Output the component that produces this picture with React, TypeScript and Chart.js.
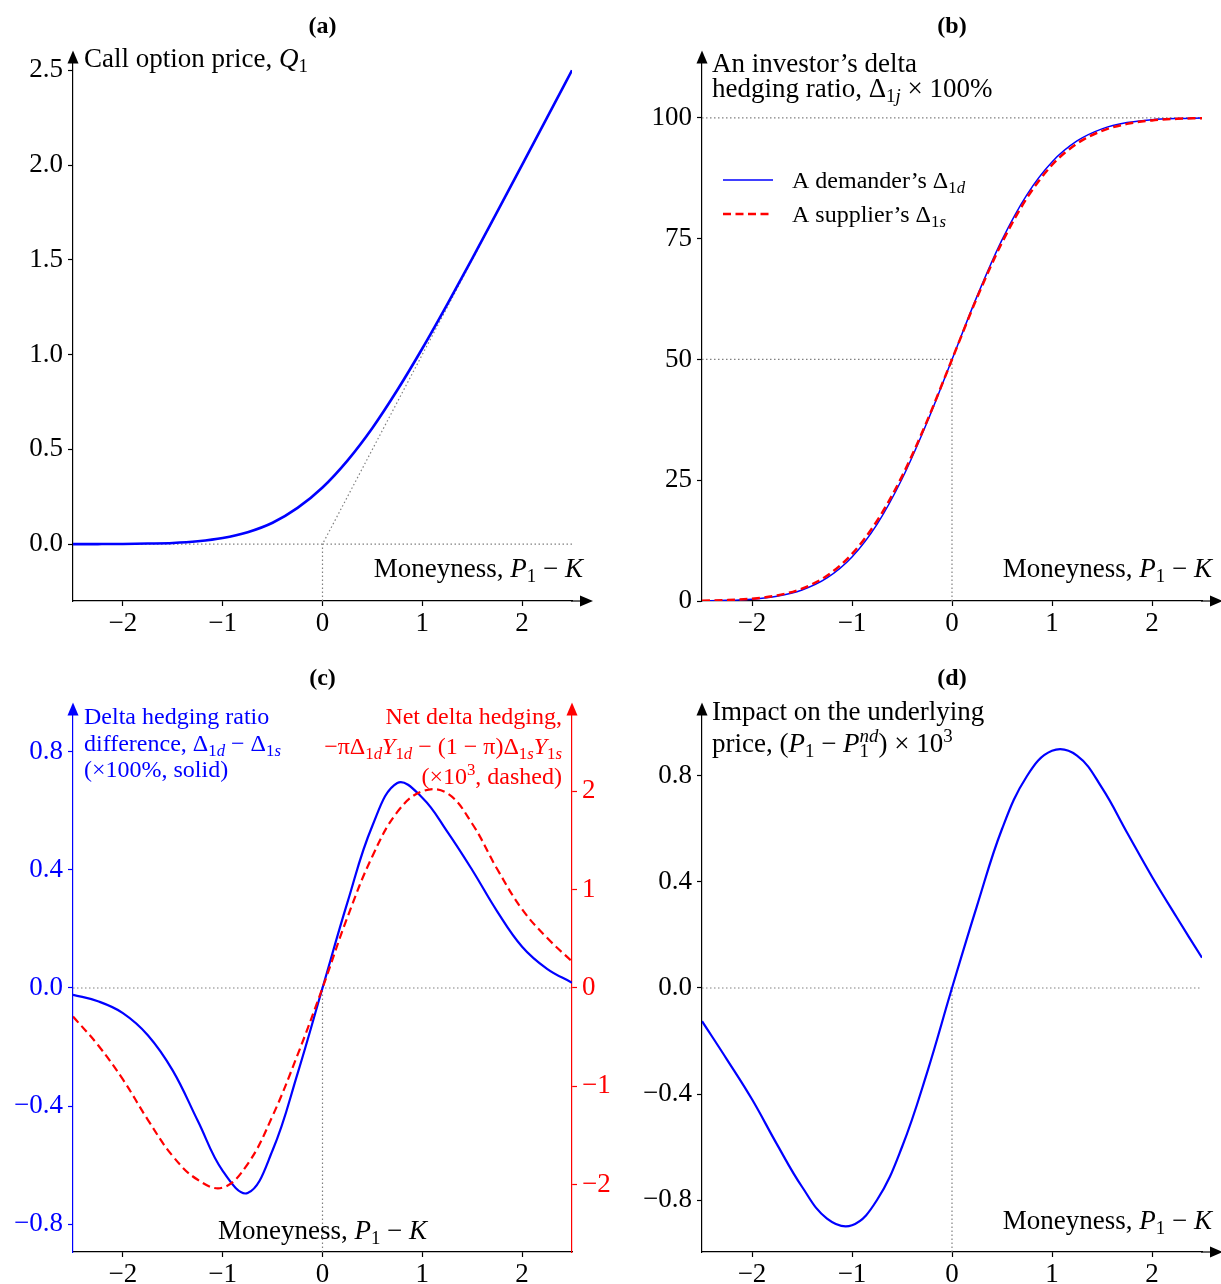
import React, { useEffect, useRef } from 'react';
import { Chart, registerables } from 'chart.js';

Chart.register(...registerables);

const W = 1221;
const H = 1284;
const FONT = "'Liberation Serif', 'Times New Roman', serif";
const BLUE = '#0000ff';
const RED = '#ff0000';
const GREY = '#808080';

// ---------- data ----------
const moneyness = [-2.5, -2.25, -2, -1.75, -1.5, -1.25, -1, -0.75, -0.5, -0.25, 0, 0.25, 0.5, 0.75, 1, 1.25, 1.5, 1.75, 2, 2.25, 2.5];

// (a) call option price Q1
const callPrice = [0.0001, 0.0003, 0.001, 0.003, 0.006, 0.015, 0.032, 0.063, 0.113, 0.191, 0.299, 0.441, 0.613, 0.813, 1.032, 1.265, 1.506, 1.753, 2.001, 2.250, 2.500];
// payoff max(P1-K, 0)
const payoffX = [-2.5, 0, 2.5];
const payoffY = [0, 0, 2.5];

// (b) delta hedging ratios x 100%
const deltaDemander = [0.04, 0.13, 0.38, 0.98, 2.28, 4.78, 9.12, 15.87, 25.25, 36.94, 50.0, 63.06, 74.75, 84.13, 90.88, 95.22, 97.72, 99.02, 99.62, 99.87, 99.96];
const deltaSupplier = [0.06, 0.18, 0.47, 1.14, 2.56, 5.23, 9.74, 16.57, 25.8, 37.23, 50.0, 62.77, 74.2, 83.44, 90.24, 94.69, 97.32, 98.76, 99.48, 99.81, 99.94];

// (c) difference (x100%) and net delta hedging (x10^3)
const deltaDiff = [-0.023, -0.045, -0.085, -0.16, -0.28, -0.45, -0.62, -0.695, -0.55, -0.29, 0, 0.29, 0.55, 0.695, 0.645, 0.53, 0.40, 0.26, 0.14, 0.065, 0.018];
const netDelta = [-0.29, -0.58, -0.93, -1.34, -1.71, -1.95, -2.03, -1.79, -1.30, -0.68, 0, 0.72, 1.34, 1.79, 2.0, 1.98, 1.67, 1.21, 0.80, 0.51, 0.27];

// (d) impact on the underlying price (x10^3)
const priceImpact = [-0.125, -0.27, -0.42, -0.59, -0.75, -0.87, -0.895, -0.80, -0.60, -0.32, 0, 0.31, 0.60, 0.80, 0.895, 0.877, 0.755, 0.587, 0.42, 0.265, 0.114];

// reference lines
const spanX = [-2.5, 2.5];
const halfLeftX = [-2.5, 0];
const halfRightX = [0, 2.5];
const zeroPair = [0, 0];

// ticks
const xTicks = [-2, -1, 0, 1, 2];
const yTicksA = [0, 0.5, 1, 1.5, 2, 2.5];
const yTicksB = [0, 25, 50, 75, 100];
const yTicksC = [-0.8, -0.4, 0, 0.4, 0.8];
const y1TicksC = [-2, -1, 0, 1, 2];
const yTicksD = [-0.8, -0.4, 0, 0.4, 0.8];

// ---------- helpers ----------
const pts = (xs: number[], ys: number[]) => xs.map((x, i) => ({ x, y: ys[i] }));
const minus = (s: string) => s.replace('-', '\u2212');
const fmt1 = (v: number) => minus(Number(v).toFixed(1));
const fmt0 = (v: number) => minus(String(Math.round(Number(v))));

type Seg = { t: string; it?: boolean; b?: boolean; sub?: boolean; sup?: boolean; over?: boolean };

function segFont(s: Seg, size: number) {
  const sz = s.sub || s.sup ? size * 0.7 : size;
  return `${s.it ? 'italic ' : ''}${s.b ? 'bold ' : ''}${sz}px ${FONT}`;
}

function drawRich(ctx: CanvasRenderingContext2D, segs: Seg[], x: number, y: number, size: number, align: 'left' | 'right' | 'center', color: string, sx = 1) {
  let cur = 0;
  let prevStart = 0;
  let prevEnd = 0;
  const items: { s: Seg; x: number }[] = [];
  for (const s of segs) {
    ctx.font = segFont(s, size);
    const w = ctx.measureText(s.t).width;
    const start = s.over ? prevStart : cur;
    items.push({ s, x: start });
    const end = start + w;
    cur = s.over ? Math.max(prevEnd, end) : end;
    prevStart = start;
    prevEnd = end;
  }
  const width = cur * sx;
  const x0 = align === 'right' ? x - width : align === 'center' ? x - width / 2 : x;
  ctx.save();
  ctx.translate(x0, y);
  ctx.scale(sx, 1);
  ctx.fillStyle = color;
  ctx.textAlign = 'left';
  ctx.textBaseline = 'alphabetic';
  for (const it of items) {
    ctx.font = segFont(it.s, size);
    const dy = it.s.sub ? size * 0.2 : it.s.sup ? -size * 0.38 : 0;
    ctx.fillText(it.s.t, it.x, dy);
  }
  ctx.restore();
}

function upArrow(ctx: CanvasRenderingContext2D, x: number, top: number, color: string) {
  ctx.save();
  ctx.fillStyle = color;
  ctx.beginPath();
  ctx.moveTo(x, top - 6.5);
  ctx.lineTo(x - 5.5, top + 6.5);
  ctx.lineTo(x + 5.5, top + 6.5);
  ctx.closePath();
  ctx.fill();
  ctx.restore();
}

function rightArrow(ctx: CanvasRenderingContext2D, a: any) {
  ctx.save();
  ctx.strokeStyle = '#000';
  ctx.lineWidth = 1.2;
  ctx.beginPath();
  ctx.moveTo(a.right - 1, a.bottom);
  ctx.lineTo(a.right + 10, a.bottom);
  ctx.stroke();
  ctx.fillStyle = '#000';
  ctx.beginPath();
  ctx.moveTo(a.right + 21, a.bottom);
  ctx.lineTo(a.right + 8, a.bottom - 5.5);
  ctx.lineTo(a.right + 8, a.bottom + 5.5);
  ctx.closePath();
  ctx.fill();
  ctx.restore();
}

const moneynessLabel: Seg[] = [{ t: 'Moneyness, ' }, { t: 'P', it: true }, { t: '1', sub: true }, { t: ' \u2212 ' }, { t: 'K', it: true }];

const XH = 30;
const YW = 70;
const Y1W = 60;
const TICK_SIZE = 27;

type AxisSpec = { min: number; max: number; ticks: number[]; fmt: (v: number) => string; color: string };
type PanelSpec = {
  area: { l: number; r: number; t: number; b: number };
  x: [number, number];
  y: AxisSpec;
  y1?: AxisSpec;
  datasets: any[];
  draw: (ctx: CanvasRenderingContext2D, a: any) => void;
};

function scaleOpts(spec: AxisSpec, position: string, isX: boolean, width: number) {
  return {
    type: 'linear',
    position,
    min: spec.min,
    max: spec.max,
    afterBuildTicks: (s: any) => {
      s.ticks = spec.ticks.map((v) => ({ value: v }));
    },
    afterFit: (s: any) => {
      if (isX) s.height = width;
      else s.width = width;
    },
    grid: { display: true, drawOnChartArea: false, drawTicks: true, tickLength: 5, tickColor: spec.color, tickWidth: 1.2 },
    border: { display: true, color: spec.color, width: 1.2 },
    ticks: {
      color: spec.color,
      font: { family: FONT, size: TICK_SIZE },
      padding: isX ? 2 : 5,
      autoSkip: false,
      maxRotation: 0,
      callback: (v: any) => spec.fmt(Number(v)),
    },
  };
}

function buildConfig(p: PanelSpec): any {
  const scales: any = {
    x: scaleOpts({ min: p.x[0], max: p.x[1], ticks: xTicks, fmt: fmt0, color: '#000' }, 'bottom', true, XH),
    y: scaleOpts(p.y, 'left', false, YW),
  };
  if (p.y1) scales.y1 = scaleOpts(p.y1, 'right', false, Y1W);
  return {
    type: 'line',
    data: { datasets: p.datasets },
    options: {
      responsive: false,
      animation: false,
      events: [],
      devicePixelRatio: 1,
      layout: {
        padding: {
          left: p.area.l - YW,
          right: W - p.area.r - (p.y1 ? Y1W : 0),
          top: p.area.t,
          bottom: H - p.area.b - XH,
        },
      },
      plugins: { legend: { display: false }, tooltip: { enabled: false }, title: { display: false } },
      scales,
      elements: { point: { radius: 0 } },
    },
    plugins: [
      {
        id: 'overlay',
        afterDraw(chart: any) {
          p.draw(chart.ctx, chart.chartArea);
        },
      },
    ],
  };
}

const dotted = (data: any[], yAxisID = 'y') => ({
  data,
  yAxisID,
  borderColor: GREY,
  borderWidth: 1.2,
  borderDash: [1.5, 2.5],
  borderCapStyle: 'butt',
  pointRadius: 0,
  fill: false,
  tension: 0,
  order: 5,
});

const curve = (data: any[], color: string, width: number, extra: any = {}) => ({
  data,
  borderColor: color,
  borderWidth: width,
  pointRadius: 0,
  fill: false,
  borderJoinStyle: 'round',
  ...extra,
});

// ---------- panels ----------
const yMinA = -0.3;
const yMinC = -0.8948;
const yMinD = -0.9962;

const panelA: PanelSpec = {
  area: { l: 73, r: 572, t: 57, b: 601 },
  x: [-2.5, 2.5],
  y: { min: yMinA, max: 2.57, ticks: yTicksA, fmt: fmt1, color: '#000' },
  datasets: [
    curve(pts(moneyness, callPrice), BLUE, 2.6, { cubicInterpolationMode: 'monotone', order: 0 }),
    dotted(pts(payoffX, payoffY)),
    dotted(pts(halfRightX, zeroPair)),
    dotted(pts(zeroPair, [yMinA, 0])),
  ],
  draw: (ctx, a) => {
    drawRich(ctx, [{ t: '(a)', b: true }], (a.left + a.right) / 2, 33, 24, 'center', '#000');
    upArrow(ctx, a.left, a.top, '#000');
    rightArrow(ctx, a);
    drawRich(ctx, [{ t: 'Call option price, ' }, { t: 'Q', it: true }, { t: '1', sub: true }], 84, 67, 27, 'left', '#000');
    drawRich(ctx, moneynessLabel, 583, 577, 27, 'right', '#000');
  },
};

const panelB: PanelSpec = {
  area: { l: 702, r: 1202, t: 57, b: 601 },
  x: [-2.5, 2.5],
  y: { min: 0, max: 112.6, ticks: yTicksB, fmt: fmt0, color: '#000' },
  datasets: [
    curve(pts(moneyness, deltaSupplier), RED, 2.5, { cubicInterpolationMode: 'monotone', borderDash: [8, 4.5], order: 0 }),
    curve(pts(moneyness, deltaDemander), BLUE, 1.5, { cubicInterpolationMode: 'monotone', order: 1 }),
    dotted(pts(spanX, [100, 100])),
    dotted(pts(halfLeftX, [50, 50])),
    dotted(pts(zeroPair, [0, 50])),
  ],
  draw: (ctx, a) => {
    drawRich(ctx, [{ t: '(b)', b: true }], (a.left + a.right) / 2, 33, 24, 'center', '#000');
    upArrow(ctx, a.left, a.top, '#000');
    rightArrow(ctx, a);
    drawRich(ctx, [{ t: 'An investor\u2019s delta' }], 712, 72, 27, 'left', '#000');
    drawRich(
      ctx,
      [{ t: 'hedging ratio, \u0394' }, { t: '1', sub: true }, { t: 'j', sub: true, it: true }, { t: ' \u00d7 100%' }],
      712,
      97,
      27,
      'left',
      '#000'
    );
    // legend
    const lx = a.left + 21;
    ctx.save();
    ctx.strokeStyle = BLUE;
    ctx.lineWidth = 1.5;
    ctx.beginPath();
    ctx.moveTo(lx, 180);
    ctx.lineTo(lx + 50, 180);
    ctx.stroke();
    ctx.strokeStyle = RED;
    ctx.lineWidth = 2.5;
    ctx.setLineDash([8, 4.5]);
    ctx.beginPath();
    ctx.moveTo(lx, 214);
    ctx.lineTo(lx + 50, 214);
    ctx.stroke();
    ctx.restore();
    drawRich(ctx, [{ t: 'A demander\u2019s \u0394' }, { t: '1', sub: true }, { t: 'd', sub: true, it: true }], lx + 69, 188, 24, 'left', '#000');
    drawRich(ctx, [{ t: 'A supplier\u2019s \u0394' }, { t: '1', sub: true }, { t: 's', sub: true, it: true }], lx + 69, 222, 24, 'left', '#000');
    drawRich(ctx, moneynessLabel, 1212, 577, 27, 'right', '#000');
  },
};

const panelC: PanelSpec = {
  area: { l: 73, r: 572, t: 709, b: 1252 },
  x: [-2.5, 2.5],
  y: { min: yMinC, max: 0.9456, ticks: yTicksC, fmt: fmt1, color: BLUE },
  y1: { min: yMinC * 3, max: 0.9456 * 3, ticks: y1TicksC, fmt: fmt0, color: RED },
  datasets: [
    curve(pts(moneyness, netDelta), RED, 2.2, { tension: 0.4, borderDash: [8, 4.5], yAxisID: 'y1', order: 0 }),
    curve(pts(moneyness, deltaDiff), BLUE, 2.2, { tension: 0.4, order: 1 }),
    dotted(pts(spanX, zeroPair)),
    dotted(pts(zeroPair, [yMinC, 0])),
  ],
  draw: (ctx, a) => {
    drawRich(ctx, [{ t: '(c)', b: true }], (a.left + a.right) / 2, 685, 24, 'center', '#000');
    upArrow(ctx, a.left, a.top, BLUE);
    upArrow(ctx, a.right, a.top, RED);
    drawRich(ctx, [{ t: 'Delta hedging ratio' }], 84, 724, 24, 'left', BLUE);
    drawRich(
      ctx,
      [{ t: 'difference, \u0394' }, { t: '1', sub: true }, { t: 'd', sub: true, it: true }, { t: ' \u2212 \u0394' }, { t: '1', sub: true }, { t: 's', sub: true, it: true }],
      84,
      751,
      24,
      'left',
      BLUE
    );
    drawRich(ctx, [{ t: '(\u00d7100%, solid)' }], 84, 777, 24, 'left', BLUE);
    drawRich(ctx, [{ t: 'Net delta hedging,' }], 562, 724, 24, 'right', RED);
    drawRich(
      ctx,
      [
        { t: '\u2212\u03c0\u0394' },
        { t: '1', sub: true },
        { t: 'd', sub: true, it: true },
        { t: 'Y', it: true },
        { t: '1', sub: true },
        { t: 'd', sub: true, it: true },
        { t: ' \u2212 (1 \u2212 \u03c0)\u0394' },
        { t: '1', sub: true },
        { t: 's', sub: true, it: true },
        { t: 'Y', it: true },
        { t: '1', sub: true },
        { t: 's', sub: true, it: true },
      ],
      562,
      754,
      24,
      'right',
      RED
    );
    drawRich(ctx, [{ t: '(\u00d710' }, { t: '3', sup: true }, { t: ', dashed)' }], 562, 784, 24, 'right', RED);
    drawRich(ctx, moneynessLabel, (a.left + a.right) / 2, 1239, 27, 'center', '#000');
  },
};

const panelD: PanelSpec = {
  area: { l: 702, r: 1202, t: 709, b: 1252 },
  x: [-2.5, 2.5],
  y: { min: yMinD, max: 1.0528, ticks: yTicksD, fmt: fmt1, color: '#000' },
  datasets: [
    curve(pts(moneyness, priceImpact), BLUE, 2.2, { tension: 0.4, order: 0 }),
    dotted(pts(spanX, zeroPair)),
    dotted(pts(zeroPair, [yMinD, 0])),
  ],
  draw: (ctx, a) => {
    drawRich(ctx, [{ t: '(d)', b: true }], (a.left + a.right) / 2, 685, 24, 'center', '#000');
    upArrow(ctx, a.left, a.top, '#000');
    rightArrow(ctx, a);
    drawRich(ctx, [{ t: 'Impact on the underlying' }], 712, 720, 27, 'left', '#000');
    drawRich(
      ctx,
      [
        { t: 'price, (' },
        { t: 'P', it: true },
        { t: '1', sub: true },
        { t: ' \u2212 ' },
        { t: 'P', it: true },
        { t: '1', sub: true },
        { t: 'nd', sup: true, it: true, over: true },
        { t: ') \u00d7 10' },
        { t: '3', sup: true },
      ],
      712,
      752,
      27,
      'left',
      '#000'
    );
    drawRich(ctx, moneynessLabel, 1212, 1229, 27, 'right', '#000');
  },
};

const PANELS = [panelA, panelB, panelC, panelD];

export default function App() {
  const refs = [useRef<HTMLCanvasElement>(null), useRef<HTMLCanvasElement>(null), useRef<HTMLCanvasElement>(null), useRef<HTMLCanvasElement>(null)];
  useEffect(() => {
    const charts = PANELS.map((p, i) => new Chart(refs[i].current as HTMLCanvasElement, buildConfig(p)));
    return () => charts.forEach((c) => c.destroy());
  }, []);
  return (
    <div style={{ position: 'fixed', left: 0, top: 0, width: W, height: H, background: '#fff', overflow: 'hidden' }}>
      {refs.map((r, i) => (
        <canvas key={i} ref={r} width={W} height={H} style={{ position: 'absolute', left: 0, top: 0, width: W, height: H }} />
      ))}
    </div>
  );
}
